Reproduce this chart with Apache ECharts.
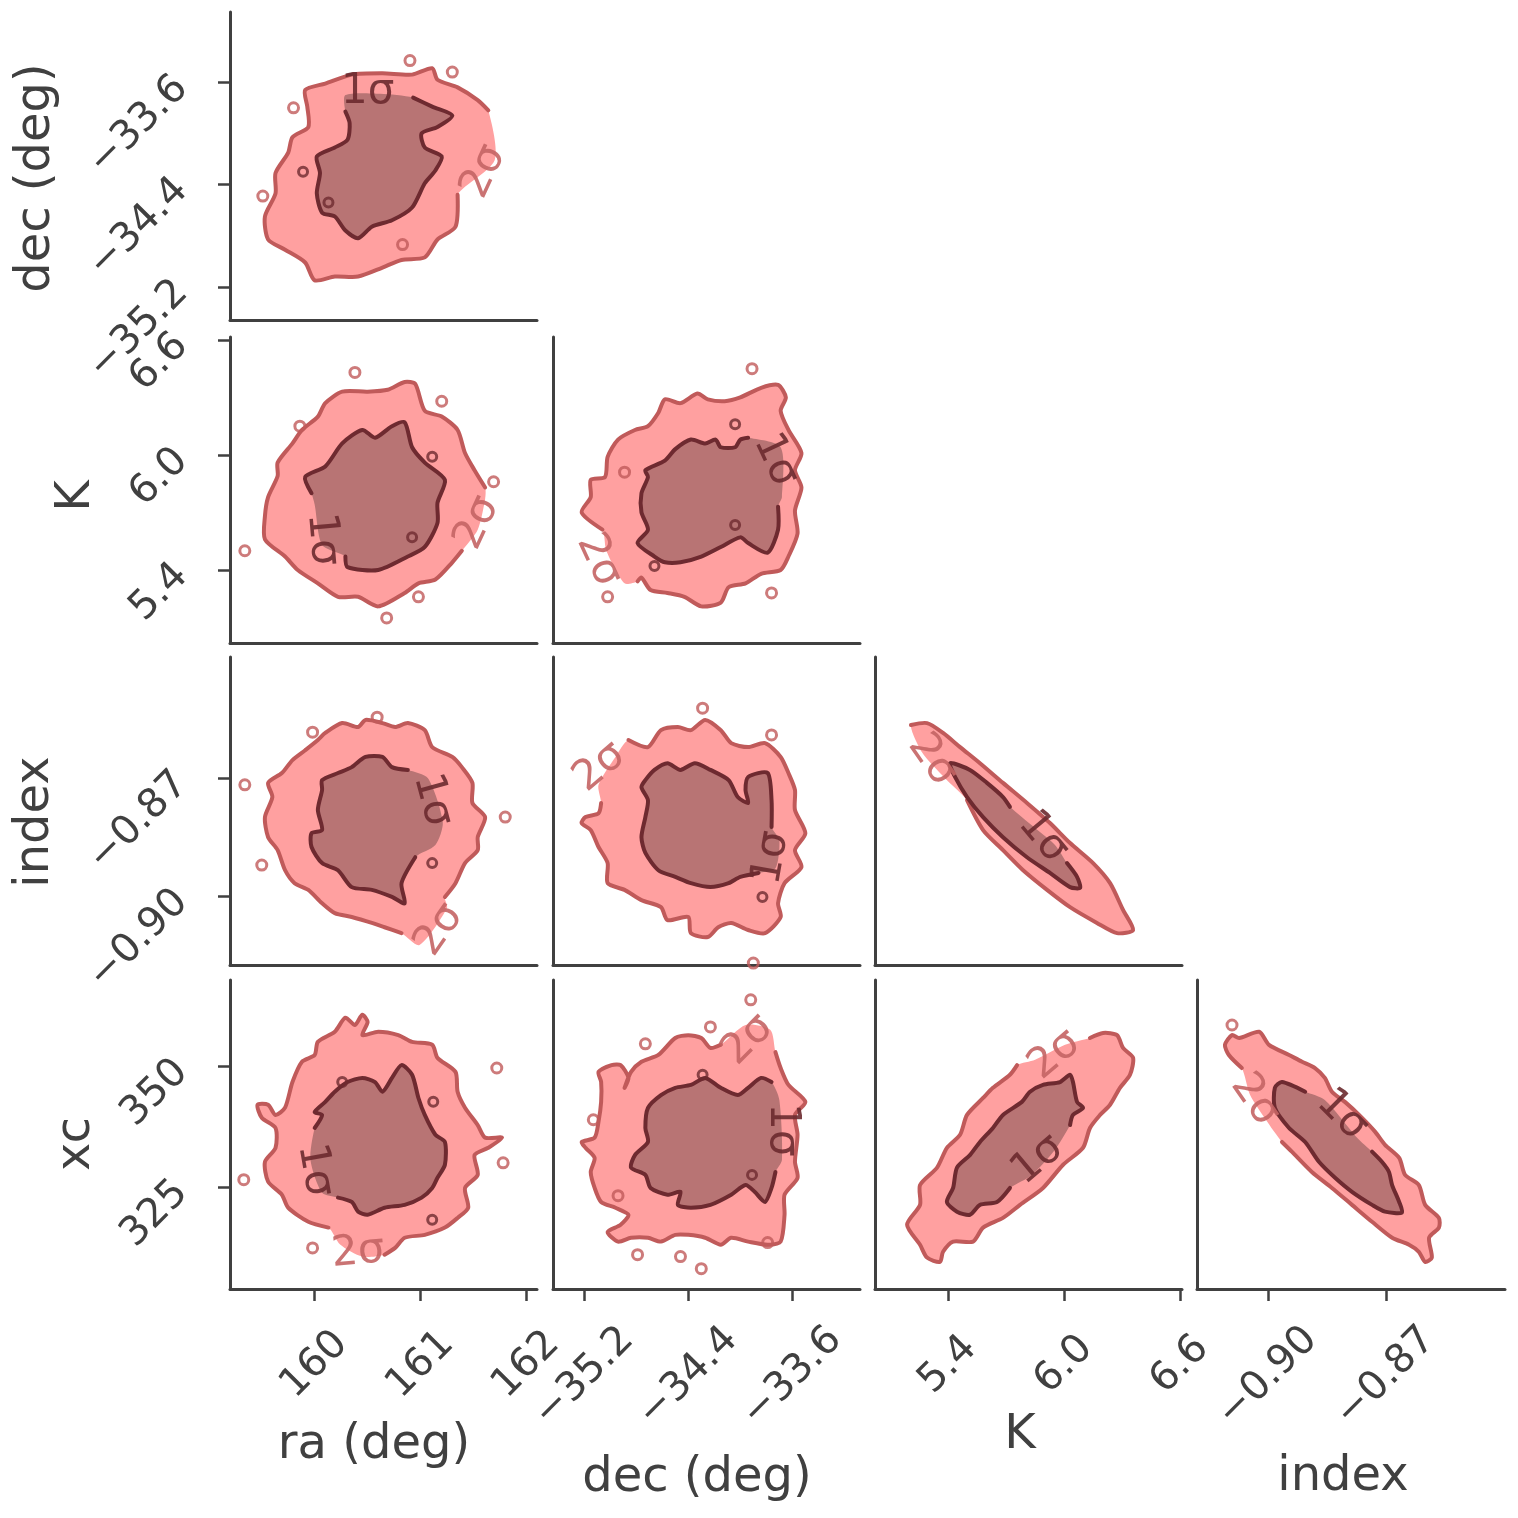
<!DOCTYPE html>
<html><head><meta charset="utf-8">
<script src="https://cdn.jsdelivr.net/npm/echarts@6/dist/echarts.min.js"></script>
<style>html,body{margin:0;padding:0;background:#fff}#c{width:1518px;height:1518px}</style>
</head><body><div id="c"></div>
<script>
// ---- tick labels ----
const raTicks = [160, 161, 162];
const decTicks = [-35.2, -34.4, -33.6];
const KTicks = [5.4, 6.0, 6.6];
const indexTicks = [-0.90, -0.87];
const xcTicks = [325, 350];

// ---- contours (2σ and 1σ), data units ----
const ra_dec_2s = [[161.70,-34.21],[161.35,-34.48],[161.33,-34.73],[161.16,-34.83],[161.04,-34.97],[160.82,-34.99],[160.64,-35.05],[160.41,-35.12],[160.19,-35.12],[160.00,-35.15],[159.91,-35.01],[159.72,-34.91],[159.56,-34.83],[159.53,-34.65],[159.63,-34.47],[159.63,-34.31],[159.75,-34.15],[159.79,-34.03],[159.94,-33.95],[159.93,-33.79],[159.91,-33.66],[160.10,-33.61],[160.35,-33.54],[160.64,-33.53],[160.92,-33.54],[161.11,-33.49],[161.16,-33.58],[161.35,-33.64],[161.54,-33.74],[161.64,-33.82]];
const ra_dec_1s = [[160.29,-33.70],[160.62,-33.69],[160.93,-33.72],[161.11,-33.79],[161.30,-33.86],[161.16,-33.95],[161.01,-34.00],[161.04,-34.11],[161.20,-34.18],[161.14,-34.29],[161.04,-34.39],[160.92,-34.58],[160.73,-34.68],[160.54,-34.73],[160.41,-34.82],[160.29,-34.76],[160.19,-34.65],[160.07,-34.62],[160.02,-34.47],[160.05,-34.31],[160.02,-34.18],[160.19,-34.11],[160.31,-34.05],[160.33,-33.92],[160.29,-33.83]];

const ra_K_2s = [[161.61,5.77],[161.54,5.61],[161.39,5.50],[161.30,5.44],[161.14,5.35],[160.98,5.33],[160.85,5.28],[160.60,5.21],[160.41,5.26],[160.22,5.26],[160.03,5.33],[159.84,5.40],[159.72,5.47],[159.53,5.56],[159.53,5.68],[159.56,5.78],[159.65,5.89],[159.65,5.96],[159.79,6.06],[159.88,6.13],[160.03,6.20],[160.10,6.27],[160.26,6.33],[160.50,6.33],[160.69,6.34],[160.85,6.38],[160.95,6.37],[161.04,6.23],[161.20,6.20],[161.35,6.13],[161.42,6.01],[161.51,5.92],[161.61,5.83]];
const ra_K_1s = [[160.07,5.53],[160.00,5.74],[159.97,5.80],[159.91,5.885],[160.10,5.94],[160.26,6.06],[160.45,6.13],[160.57,6.09],[160.73,6.15],[160.85,6.17],[160.92,6.04],[161.04,5.96],[161.23,5.87],[161.16,5.75],[161.16,5.645],[161.04,5.52],[160.88,5.47],[160.60,5.40],[160.31,5.415],[160.29,5.47]];

const dec_K_2s = [[-34.89,5.33],[-35.03,5.50],[-35.06,5.61],[-35.22,5.70],[-35.15,5.78],[-35.15,5.87],[-35.04,5.885],[-35.02,5.99],[-34.94,6.08],[-34.81,6.13],[-34.71,6.15],[-34.63,6.22],[-34.58,6.29],[-34.46,6.27],[-34.33,6.32],[-34.25,6.29],[-34.12,6.28],[-34.00,6.30],[-33.84,6.35],[-33.71,6.365],[-33.65,6.30],[-33.69,6.23],[-33.63,6.13],[-33.53,6.01],[-33.58,5.92],[-33.53,5.83],[-33.58,5.71],[-33.56,5.59],[-33.63,5.47],[-33.69,5.40],[-33.84,5.38],[-33.96,5.33],[-34.09,5.31],[-34.15,5.23],[-34.30,5.21],[-34.43,5.26],[-34.56,5.28],[-34.69,5.295],[-34.76,5.36],[-34.79,5.34]];
const dec_K_1s = [[-33.69,6.04],[-33.68,5.78],[-33.71,5.73],[-33.71,5.61],[-33.79,5.49],[-33.94,5.54],[-34.00,5.57],[-34.15,5.52],[-34.30,5.47],[-34.46,5.44],[-34.58,5.44],[-34.66,5.47],[-34.79,5.54],[-34.71,5.61],[-34.76,5.70],[-34.76,5.80],[-34.71,5.885],[-34.73,5.92],[-34.58,5.97],[-34.50,6.03],[-34.38,6.08],[-34.27,6.06],[-34.19,6.08],[-34.15,6.04],[-34.04,6.04],[-34.00,6.08],[-33.94,6.09]];

const ra_index_2s = [[161.25,-0.9030],[160.99,-0.9124],[160.82,-0.9094],[160.66,-0.9079],[160.54,-0.9068],[160.35,-0.9053],[160.19,-0.9043],[160.07,-0.9018],[159.94,-0.8984],[159.81,-0.8967],[159.72,-0.8934],[159.65,-0.8883],[159.56,-0.8850],[159.53,-0.8799],[159.60,-0.8748],[159.56,-0.8712],[159.69,-0.8687],[159.79,-0.8654],[159.91,-0.8629],[160.03,-0.8603],[160.10,-0.8585],[160.26,-0.8560],[160.41,-0.8570],[160.48,-0.8552],[160.64,-0.8560],[160.76,-0.8570],[160.88,-0.8560],[161.04,-0.8578],[161.11,-0.8621],[161.30,-0.8646],[161.39,-0.8672],[161.49,-0.8712],[161.49,-0.8763],[161.61,-0.8799],[161.54,-0.8850],[161.54,-0.8883],[161.42,-0.8916],[161.33,-0.8967],[161.23,-0.9002]];
const ra_index_1s = [[161.07,-0.8700],[161.21,-0.8812],[161.14,-0.8870],[160.95,-0.8901],[160.82,-0.8967],[160.85,-0.9018],[160.73,-0.9002],[160.54,-0.8984],[160.35,-0.8977],[160.22,-0.8934],[160.07,-0.8916],[159.97,-0.8875],[159.97,-0.8840],[160.07,-0.8832],[160.03,-0.8781],[160.07,-0.8730],[160.07,-0.8705],[160.22,-0.8687],[160.35,-0.8672],[160.48,-0.8646],[160.64,-0.8646],[160.73,-0.8672],[160.88,-0.8679]];

const dec_index_2s = [[-35.09,-0.8717],[-34.96,-0.8646],[-34.86,-0.8603],[-34.71,-0.8621],[-34.61,-0.8578],[-34.48,-0.8570],[-34.38,-0.8578],[-34.27,-0.8552],[-34.15,-0.8578],[-34.07,-0.8611],[-33.94,-0.8621],[-33.81,-0.8611],[-33.69,-0.8646],[-33.63,-0.8687],[-33.58,-0.8730],[-33.58,-0.8781],[-33.50,-0.8840],[-33.58,-0.8883],[-33.53,-0.8926],[-33.66,-0.8967],[-33.71,-0.9018],[-33.69,-0.9053],[-33.81,-0.9094],[-33.94,-0.9086],[-34.07,-0.9068],[-34.17,-0.9079],[-34.25,-0.9104],[-34.38,-0.9094],[-34.40,-0.9053],[-34.56,-0.9061],[-34.61,-0.9028],[-34.76,-0.9010],[-34.89,-0.8984],[-35.02,-0.8967],[-35.02,-0.8916],[-35.09,-0.8875],[-35.15,-0.8832],[-35.22,-0.8814],[-35.19,-0.8799],[-35.09,-0.8789],[-35.07,-0.8763]];
const dec_index_1s = [[-33.73,-0.8929],[-33.70,-0.8857],[-33.76,-0.8824],[-33.76,-0.8756],[-33.79,-0.8687],[-33.94,-0.8697],[-33.96,-0.8730],[-33.94,-0.8763],[-34.02,-0.8748],[-34.09,-0.8705],[-34.23,-0.8679],[-34.35,-0.8662],[-34.46,-0.8679],[-34.56,-0.8662],[-34.66,-0.8679],[-34.73,-0.8705],[-34.76,-0.8723],[-34.71,-0.8756],[-34.73,-0.8799],[-34.76,-0.8850],[-34.73,-0.8890],[-34.63,-0.8934],[-34.50,-0.8951],[-34.38,-0.8967],[-34.23,-0.8977],[-34.09,-0.8967],[-34.00,-0.8951],[-33.86,-0.8941]];

const K_index_2s = [[5.384,-0.8700],[5.265,-0.8634],[5.208,-0.8565],[5.291,-0.8560],[5.374,-0.8585],[5.462,-0.8621],[5.565,-0.8662],[5.684,-0.8712],[5.808,-0.8763],[5.927,-0.8814],[6.031,-0.8865],[6.150,-0.8916],[6.238,-0.8967],[6.305,-0.9035],[6.357,-0.9086],[6.274,-0.9094],[6.170,-0.9068],[6.031,-0.9028],[5.912,-0.8984],[5.788,-0.8934],[5.684,-0.8883],[5.581,-0.8832],[5.498,-0.8756]];
const K_index_1s = [[5.850,-0.8827],[5.953,-0.8870],[6.015,-0.8916],[6.067,-0.8951],[6.083,-0.8979],[6.031,-0.8977],[5.927,-0.8941],[5.808,-0.8901],[5.684,-0.8850],[5.581,-0.8799],[5.498,-0.8748],[5.436,-0.8697],[5.410,-0.8662],[5.513,-0.8679],[5.601,-0.8712],[5.684,-0.8748],[5.720,-0.8773]];

const ra_xc_2s = [[160.45,310.6],[160.24,313.1],[160.13,316.6],[159.94,317.8],[159.75,320.7],[159.69,323.4],[159.56,326.1],[159.53,330.2],[159.63,333.1],[159.63,337.2],[159.50,339.3],[159.46,342.0],[159.56,342.0],[159.63,339.9],[159.72,341.4],[159.79,346.7],[159.88,350.9],[160.00,352.3],[160.03,355.0],[160.19,357.1],[160.29,360.0],[160.38,358.5],[160.45,360.6],[160.50,359.1],[160.45,356.4],[160.60,357.1],[160.79,356.4],[160.92,355.0],[161.11,354.4],[161.16,351.7],[161.33,348.8],[161.35,344.7],[161.42,341.4],[161.54,337.8],[161.61,335.2],[161.77,335.2],[161.64,333.1],[161.51,331.6],[161.54,327.5],[161.42,324.8],[161.45,320.7],[161.35,318.6],[161.23,316.6],[161.04,315.1],[160.85,314.5],[160.76,312.4],[160.66,311.0]];
const ra_xc_1s = [[160.07,323.8],[159.96,330.6],[160.00,337.2],[160.07,339.9],[160.00,340.5],[160.10,342.6],[160.19,344.7],[160.31,346.7],[160.45,347.55],[160.57,346.7],[160.64,344.7],[160.73,347.55],[160.82,350.2],[160.92,348.2],[160.98,343.4],[161.04,339.9],[161.14,335.8],[161.23,334.3],[161.23,329.6],[161.16,326.9],[161.11,324.8],[161.01,322.8],[160.85,321.3],[160.66,320.7],[160.50,319.25],[160.41,319.9],[160.35,321.9],[160.22,322.8]];

const dec_xc_2s = [[-33.96,358.5],[-33.77,357.5],[-33.73,352.9],[-33.69,349.6],[-33.63,346.1],[-33.50,342.6],[-33.58,339.9],[-33.56,335.8],[-33.58,330.2],[-33.56,326.9],[-33.66,323.4],[-33.66,319.25],[-33.69,313.7],[-33.79,313.05],[-33.94,313.7],[-34.07,314.5],[-34.15,313.05],[-34.27,314.5],[-34.40,315.1],[-34.50,315.1],[-34.61,313.7],[-34.71,314.5],[-34.84,314.5],[-34.94,313.7],[-35.02,315.7],[-34.92,317.2],[-34.86,319.25],[-34.96,320.7],[-35.07,321.9],[-35.12,324.8],[-35.15,328.1],[-35.12,331.0],[-35.19,333.1],[-35.22,334.3],[-35.12,335.2],[-35.09,338.5],[-35.07,342.6],[-35.07,346.7],[-35.09,348.8],[-34.99,350.2],[-34.92,350.2],[-34.86,347.55],[-34.89,345.5],[-34.84,348.8],[-34.76,350.9],[-34.63,352.3],[-34.50,355.8],[-34.40,356.4],[-34.30,355.8],[-34.23,353.75],[-34.15,354.4]];
const dec_xc_1s = [[-33.68,330.6],[-33.70,343.0],[-33.76,346.7],[-33.84,347.55],[-33.94,345.5],[-34.02,344.0],[-34.15,345.5],[-34.27,347.55],[-34.38,346.1],[-34.50,345.5],[-34.61,344.0],[-34.71,341.35],[-34.73,337.2],[-34.71,334.3],[-34.81,331.6],[-34.84,329.0],[-34.73,327.5],[-34.69,324.8],[-34.56,323.4],[-34.46,324.0],[-34.48,321.3],[-34.38,320.7],[-34.23,321.3],[-34.07,323.4],[-33.96,325.4],[-33.89,324.0],[-33.81,321.9],[-33.76,324.8],[-33.73,328.1]];

const K_xc_2s = [[5.850,351.3],[6.005,354.4],[6.134,355.8],[6.202,356.85],[6.274,356.4],[6.305,353.75],[6.357,351.7],[6.341,348.2],[6.289,345.5],[6.238,342.0],[6.186,339.9],[6.134,337.2],[6.098,333.1],[5.995,329.6],[5.891,324.8],[5.772,321.3],[5.684,318.6],[5.581,316.6],[5.529,313.7],[5.426,313.7],[5.374,311.6],[5.358,309.5],[5.291,310.4],[5.255,313.05],[5.188,317.2],[5.255,321.3],[5.255,325.4],[5.343,329.0],[5.394,333.1],[5.462,335.8],[5.498,339.9],[5.581,343.4],[5.632,345.5],[5.720,348.2],[5.757,350.2]];
const K_xc_1s = [[5.953,332.7],[5.834,327.5],[5.720,324.8],[5.653,321.9],[5.565,321.3],[5.513,319.25],[5.446,319.9],[5.394,321.9],[5.426,324.8],[5.446,329.0],[5.513,331.6],[5.565,334.3],[5.632,337.2],[5.684,339.9],[5.782,342.6],[5.824,344.7],[5.891,346.1],[5.979,346.7],[6.031,348.2],[6.046,346.7],[6.067,342.6],[6.098,341.35],[6.046,339.9],[6.031,337.8]];

const index_xc_2s = [[-0.9005,338.9],[-0.9045,344.0],[-0.9066,349.6],[-0.9099,352.3],[-0.9109,354.4],[-0.9091,356.4],[-0.9073,355.8],[-0.9022,357.1],[-0.8997,354.4],[-0.8946,352.3],[-0.8913,350.9],[-0.8880,349.6],[-0.8855,347.55],[-0.8837,344.7],[-0.8804,342.6],[-0.8768,339.9],[-0.8727,336.4],[-0.8702,333.7],[-0.8666,331.0],[-0.8651,327.5],[-0.8616,325.4],[-0.8600,321.3],[-0.8565,318.6],[-0.8565,316.6],[-0.8590,314.5],[-0.8583,310.4],[-0.8600,309.5],[-0.8616,311.6],[-0.8641,313.05],[-0.8684,314.5],[-0.8735,317.8],[-0.8786,321.3],[-0.8837,324.8],[-0.8888,328.1],[-0.8939,332.3],[-0.8964,334.3]];
const index_xc_1s = [[-0.8773,335.2],[-0.8855,343.0],[-0.8905,344.7],[-0.8964,346.7],[-0.8982,345.5],[-0.8982,341.35],[-0.8946,337.2],[-0.8905,334.3],[-0.8870,330.2],[-0.8829,326.9],[-0.8786,324.0],[-0.8735,321.3],[-0.8702,319.9],[-0.8659,319.7],[-0.8666,321.9],[-0.8684,325.4],[-0.8692,328.1],[-0.8710,330.2],[-0.8735,332.3]];

// ---- small isolated contour islands ----
const ra_dec_isl2 = [[160.90,-33.43],[161.30,-33.52],[159.80,-33.80],[159.51,-34.49],[160.83,-34.87]];
const ra_dec_isl1 = [[159.89,-34.30],[160.13,-34.54]];
const ra_K_isl2 = [[160.38,6.43],[161.20,6.28],[161.69,5.86],[159.34,5.50],[160.98,5.26],[160.68,5.15],[159.86,6.15]];
const ra_K_isl1 = [[161.11,5.99],[160.92,5.57]];
const dec_K_isl2 = [[-33.91,6.45],[-33.76,5.28],[-35.02,5.26],[-34.89,5.91]];
const dec_K_isl1 = [[-34.04,6.16],[-34.04,5.635],[-34.66,5.42]];
const ra_index_isl2 = [[159.34,-0.8717],[160.59,-0.8545],[159.98,-0.8583],[159.50,-0.8921],[161.80,-0.8799]];
const ra_index_isl1 = [[161.11,-0.8916]];
const dec_index_isl2 = [[-34.29,-0.8522],[-33.76,-0.8590],[-33.90,-0.9170]];
const dec_index_isl1 = [[-33.83,-0.9002]];
const K_index_isl2 = [];
const K_index_isl1 = [];
const ra_xc_isl2 = [[161.72,349.6],[161.78,330.0],[159.33,326.5],[159.98,312.4]];
const ra_xc_isl1 = [[161.11,318.2],[161.12,342.6],[160.26,346.7]];
const dec_xc_isl2 = [[-33.92,363.7],[-34.23,358.1],[-34.73,354.6],[-35.13,338.9],[-34.94,323.2],[-34.79,311.0],[-34.46,310.6],[-34.30,308.1],[-33.79,313.5]];
const dec_xc_isl1 = [[-34.29,348.2],[-33.91,327.5]];
const K_xc_isl2 = [];
const K_xc_isl1 = [];
const index_xc_isl2 = [[-0.9091,358.5]];
const index_xc_isl1 = [];

// ---- contour level labels (position in data units, text) ----
const ra_dec_labels = [[160.50,-33.68,'1σ'],[161.60,-34.30,'2σ']];
const ra_K_labels = [[160.07,5.56,'1σ'],[161.54,5.645,'2σ']];
const dec_K_labels = [[-33.73,5.973,'1σ'],[-35.09,5.452,'2σ']];
const ra_index_labels = [[161.11,-0.8756,'1σ'],[161.18,-0.9086,'2σ']];
const dec_index_labels = [[-33.76,-0.8903,'1σ'],[-35.08,-0.8672,'2σ']];
const K_index_labels = [[5.891,-0.8850,'1σ'],[5.317,-0.8654,'2σ']];
const ra_xc_labels = [[160.00,328.5,'1σ'],[160.41,311.4,'2σ']];
const dec_xc_labels = [[-33.68,336.8,'1σ'],[-33.94,355.4,'2σ']];
const K_xc_labels = [[5.865,330.6,'1σ'],[5.953,352.3,'2σ']];
const index_xc_labels = [[-0.8811,339.9,'1σ'],[-0.9033,343.0,'2σ']];

// ---- styling / layout ----
const AX = '#404040';
const FILL2 = '#ffa0a0', LINE2 = '#c05a5a', FILL1 = '#b87474', LINE1 = '#6e2a30';
const FONT = 'DejaVu Sans';
const TICKFONT = 40;
const colLeft = [230, 553, 875, 1197], colWidth = [307, 307, 307, 308];
const rowTop = [12, 337, 657, 980], rowHeight = [308, 306, 308, 309];
const xRange = { ra: [159.2, 162.1], dec: [-35.44, -33.08], K: [5.022, 6.61], index: [-0.918, -0.8397] };
const yRange = { dec: [-35.46, -33.05], K: [5.019, 6.615], index: [-0.9175, -0.8392], xc: [303.9, 367.8] };
const ticks = { ra: raTicks, dec: decTicks, K: KTicks, index: indexTicks, xc: xcTicks };
const decimals = { ra: 0, dec: 1, K: 1, index: 2, xc: 0 };
const xMargin = { ra: 76, dec: 88, K: 76, index: 88 };

const panels = [
  { x: 'ra', y: 'dec', row: 0, col: 0, c2: ra_dec_2s, lead2: 1, c1: ra_dec_1s, lead1: 2, i2: ra_dec_isl2, i1: ra_dec_isl1, lab: ra_dec_labels, ang: [0, 65] },
  { x: 'ra', y: 'K', row: 1, col: 0, c2: ra_K_2s, lead2: 2, c1: ra_K_1s, lead1: 2, i2: ra_K_isl2, i1: ra_K_isl1, lab: ra_K_labels, ang: [-85, 65] },
  { x: 'dec', y: 'K', row: 1, col: 1, c2: dec_K_2s, lead2: 2, c1: dec_K_1s, lead1: 2, i2: dec_K_isl2, i1: dec_K_isl1, lab: dec_K_labels, ang: [-65, -65] },
  { x: 'ra', y: 'index', row: 2, col: 0, c2: ra_index_2s, lead2: 2, c1: ra_index_1s, lead1: 3, i2: ra_index_isl2, i1: ra_index_isl1, lab: ra_index_labels, ang: [-75, 55] },
  { x: 'dec', y: 'index', row: 2, col: 1, c2: dec_index_2s, lead2: 2, c1: dec_index_1s, lead1: 2, i2: dec_index_isl2, i1: dec_index_isl1, lab: dec_index_labels, ang: [80, 40] },
  { x: 'K', y: 'index', row: 2, col: 2, c2: K_index_2s, lead2: 2, c1: K_index_1s, lead1: 2, i2: K_index_isl2, i1: K_index_isl1, lab: K_index_labels, ang: [-50, -55] },
  { x: 'ra', y: 'xc', row: 3, col: 0, c2: ra_xc_2s, lead2: 2, c1: ra_xc_1s, lead1: 2, i2: ra_xc_isl2, i1: ra_xc_isl1, lab: ra_xc_labels, ang: [-80, 5] },
  { x: 'dec', y: 'xc', row: 3, col: 1, c2: dec_xc_2s, lead2: 2, c1: dec_xc_1s, lead1: 2, i2: dec_xc_isl2, i1: dec_xc_isl1, lab: dec_xc_labels, ang: [-90, 45] },
  { x: 'K', y: 'xc', row: 3, col: 2, c2: K_xc_2s, lead2: 2, c1: K_xc_1s, lead1: 2, i2: K_xc_isl2, i1: K_xc_isl1, lab: K_xc_labels, ang: [40, 40] },
  { x: 'index', y: 'xc', row: 3, col: 3, c2: index_xc_2s, lead2: 2, c1: index_xc_1s, lead1: 2, i2: index_xc_isl2, i1: index_xc_isl1, lab: index_xc_labels, ang: [-45, -55] }
];

function fmt(v, d) { return v.toFixed(d).replace('-', '\u2212'); }

function contourSeries(gi, pts, lead, fill, stroke, z) {
  return {
    type: 'custom', xAxisIndex: gi, yAxisIndex: gi, z: z, silent: true,
    data: [pts[0]],
    renderItem: function (params, api) {
      const P = pts.map(function (p) { return api.coord(p); });
      return {
        type: 'group', children: [
          { type: 'polygon', shape: { points: P, smooth: 0.25 }, style: { fill: fill, stroke: null } },
          { type: 'polyline', shape: { points: P.slice(lead), smooth: 0.25 }, style: { stroke: stroke, lineWidth: 4, fill: null, lineJoin: 'round', lineCap: 'round' } }
        ]
      };
    }
  };
}

function labelSeries(gi, labs, angs) {
  return {
    type: 'custom', xAxisIndex: gi, yAxisIndex: gi, z: 10, silent: true,
    data: labs.map(function (l) { return [l[0], l[1]]; }),
    renderItem: function (params, api) {
      const l = labs[params.dataIndex];
      const c = api.coord([l[0], l[1]]);
      const is1 = l[2] === '1σ';
      return {
        type: 'text', x: c[0], y: c[1], rotation: angs[params.dataIndex] * Math.PI / 180,
        style: { text: l[2], fill: is1 ? '#6b2a2f' : '#c46464', fontSize: 42, fontFamily: FONT, align: 'center', verticalAlign: 'middle', opacity: 0.9 }
      };
    }
  };
}

const grids = [], xAxes = [], yAxes = [], series = [];
panels.forEach(function (p, i) {
  grids.push({ left: colLeft[p.col], top: rowTop[p.row], width: colWidth[p.col], height: rowHeight[p.row], outerBoundsMode: 'none' });
  const bottom = p.row === 3, left = p.col === 0;
  xAxes.push({
    gridIndex: i, type: 'value', min: xRange[p.x][0], max: xRange[p.x][1],
    axisLine: { show: true, onZero: false, lineStyle: { color: AX, width: 3 } },
    axisTick: { show: bottom, customValues: ticks[p.x], length: 12, lineStyle: { color: AX, width: 2.5 } },
    axisLabel: { show: bottom, customValues: ticks[p.x], formatter: function (v) { return fmt(v, decimals[p.x]); }, rotate: 45, align: 'center', verticalAlign: 'middle', margin: xMargin[p.x], fontSize: TICKFONT, fontFamily: FONT, color: AX },
    splitLine: { show: false }
  });
  yAxes.push({
    gridIndex: i, type: 'value', min: yRange[p.y][0], max: yRange[p.y][1],
    axisLine: { show: true, onZero: false, lineStyle: { color: AX, width: 3 } },
    axisTick: { show: left, customValues: ticks[p.y], length: 12, lineStyle: { color: AX, width: 2.5 } },
    axisLabel: { show: left, customValues: ticks[p.y], formatter: function (v) { return fmt(v, decimals[p.y]); }, rotate: 45, align: 'right', verticalAlign: 'middle', margin: 48, fontSize: TICKFONT, fontFamily: FONT, color: AX },
    splitLine: { show: false }
  });
  series.push(contourSeries(i, p.c2, p.lead2, FILL2, LINE2, 2));
  series.push(contourSeries(i, p.c1, p.lead1, FILL1, LINE1, 3));
  series.push({ type: 'scatter', xAxisIndex: i, yAxisIndex: i, z: 4, silent: true, data: p.i2, symbol: 'circle', symbolSize: 10, itemStyle: { color: 'rgba(0,0,0,0)', borderColor: LINE2, borderWidth: 3 } });
  series.push({ type: 'scatter', xAxisIndex: i, yAxisIndex: i, z: 4, silent: true, data: p.i1, symbol: 'circle', symbolSize: 9, itemStyle: { color: 'rgba(0,0,0,0)', borderColor: LINE1, borderWidth: 3 } });
  series.push(labelSeries(i, p.lab, p.ang));
});

function nameText(t, x, y, rot) {
  return { type: 'text', x: x, y: y, rotation: rot, style: { text: t, fontSize: 48, fontFamily: FONT, fill: AX, align: 'center', verticalAlign: 'middle' } };
}

const chart = echarts.init(document.getElementById('c'), null, { renderer: 'canvas' });
chart.setOption({
  animation: false,
  backgroundColor: '#ffffff',
  grid: grids, xAxis: xAxes, yAxis: yAxes, series: series,
  graphic: [
    nameText('ra (deg)', 374, 1446, 0),
    nameText('dec (deg)', 697, 1479, 0),
    nameText('K', 1020, 1436, 0),
    nameText('index', 1343, 1478, 0),
    nameText('dec (deg)', 37, 178, Math.PI / 2),
    nameText('K', 77, 496, Math.PI / 2),
    nameText('index', 36, 822, Math.PI / 2),
    nameText('xc', 77, 1144, Math.PI / 2)
  ]
});
</script>
</body></html>
